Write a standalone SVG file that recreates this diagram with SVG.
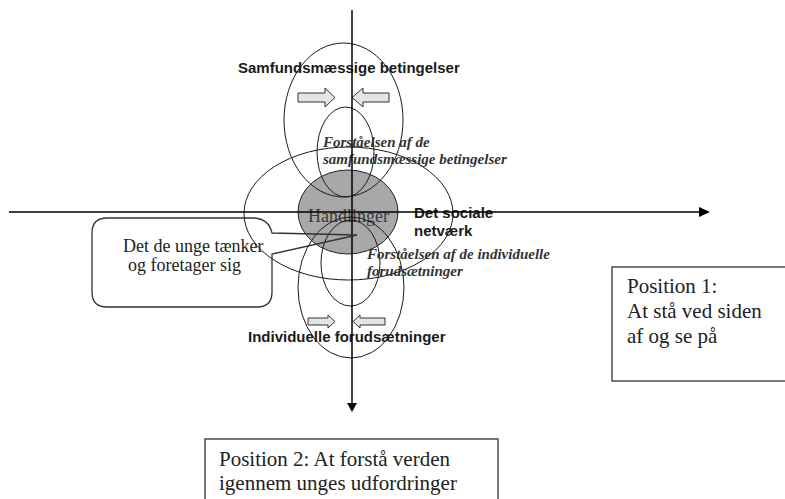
<svg xmlns="http://www.w3.org/2000/svg" width="785" height="499" viewBox="0 0 785 499">
<style>
.ell{fill:none;stroke:#1a1a1a;stroke-width:1}
.axis{stroke:#000;stroke-width:1.5;fill:none}
.blk{fill:#e4e4e4;stroke:#333;stroke-width:1}
.box{fill:none;stroke:#333;stroke-width:1.3}
.sansb{font-family:"Liberation Sans",Arial,sans-serif;font-weight:bold;font-size:15px;fill:#1a1a1a}
.ital{font-family:"Liberation Serif","Times New Roman",serif;font-weight:bold;font-style:italic;font-size:15px;fill:#333}
.serif{font-family:"Liberation Serif","Times New Roman",serif;font-size:21px;fill:#222}
</style>
<rect width="785" height="499" fill="#fff"/>
<g id="handlinger">
<ellipse cx="348" cy="212" rx="50" ry="42" fill="#a8a8aa" stroke="#222" stroke-width="1"/>
<text x="308" y="222" style="font-family:'Liberation Serif','Times New Roman',serif;font-size:18px;fill:#3a3a3a">Handlinger</text>
</g>
<g id="samfund">
<ellipse class="ell" cx="343.5" cy="120" rx="59.5" ry="77"/>
<path class="blk" d="M298,93 H325 V88 L335,97.5 L325,107 V102 H298 Z"/>
<path class="blk" d="M389,93 H363 V88 L352,97.5 L363,107 V102 H389 Z"/>
<text class="sansb" x="238" y="73">Samfundsmæssige betingelser</text>
</g>
<g id="forst-samfund">
<ellipse class="ell" cx="345.5" cy="152" rx="28.5" ry="45"/>
<text class="ital" x="323" y="147">Forståelsen af de</text>
<text class="ital" x="323" y="164">samfundsmæssige betingelser</text>
</g>
<g id="netvaerk">
<ellipse class="ell" cx="348.5" cy="213.5" rx="104.5" ry="66.5"/>
<text class="sansb" x="414" y="218">Det sociale</text>
<text class="sansb" x="414" y="236">netværk</text>
</g>
<g id="individ">
<ellipse class="ell" cx="351" cy="287.5" rx="53" ry="70.5"/>
<path class="blk" d="M308,318 H328 V315 L335,321.5 L328,328 V325 H308 Z"/>
<path class="blk" d="M385,318 H360 V315 L353,321.5 L360,328 V325 H385 Z"/>
<text class="sansb" x="248" y="342">Individuelle forudsætninger</text>
</g>
<g id="forst-individ">
<ellipse class="ell" cx="350.5" cy="263" rx="29.5" ry="43"/>
<text class="ital" x="367" y="259">Forståelsen af de individuelle</text>
<text class="ital" x="367" y="276">forudsætninger</text>
</g>
<g id="connectors">
<line class="axis" x1="352" y1="10" x2="352" y2="404"/>
<polygon points="347,403 357,403 352,412" fill="#000"/>
<line class="axis" x1="9" y1="212" x2="700" y2="212"/>
<polygon points="699,207 699,217 710,212" fill="#000"/>
</g>
<g id="callout">
<path class="box" d="M107,218 H254 Q269,219 272,233 L357,235 L272,254 V292 Q272,307 257,307 H107 Q92,307 92,292 V233 Q92,218 107,218 Z"/>
<text x="123" y="252" style="font-family:'Liberation Serif','Times New Roman',serif;font-size:18px;fill:#222">Det de unge tænker</text>
<text x="128" y="271" style="font-family:'Liberation Serif','Times New Roman',serif;font-size:18px;fill:#222">og foretager sig</text>
</g>
<g id="position1">
<rect class="box" x="612" y="267" width="180" height="114"/>
<text class="serif" x="627" y="293">Position 1:</text>
<text class="serif" x="627" y="318">At stå ved siden</text>
<text class="serif" x="627" y="343">af og se på</text>
</g>
<g id="position2">
<rect class="box" x="205" y="439" width="293" height="70"/>
<text class="serif" x="219" y="466">Position 2: At forstå verden</text>
<text class="serif" x="219" y="490">igennem unges udfordringer</text>
</g>
</svg>
